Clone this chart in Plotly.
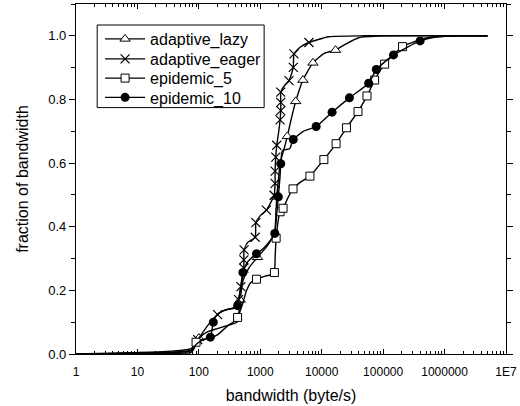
import plotly.graph_objects as go

# ---------------- data ----------------
lazy_x = [1, 30, 75, 85, 100, 140, 200, 300, 420, 470, 522, 650, 900, 1300, 1700, 1854, 2000, 2100, 2400, 2755,
          3200, 3776, 4954, 7194, 11000, 16780, 25000, 40000, 100000, 5000000]
lazy_y = [0, 0.004, 0.012, 0.03, 0.05, 0.07, 0.08, 0.09, 0.10, 0.17, 0.23, 0.27, 0.304, 0.34, 0.38, 0.494, 0.56,
          0.60, 0.64, 0.684, 0.74, 0.794, 0.861, 0.915, 0.945, 0.955, 0.975, 0.994, 1.0, 1.0]
lazy_mx = [100, 470, 900, 1854, 2755, 3776, 4954, 7194, 16780]
lazy_my = [0.05, 0.17, 0.304, 0.494, 0.684, 0.794, 0.861, 0.915, 0.955]

eager_x = [1, 30, 75, 85, 96, 140, 202, 260, 400, 443, 484, 540, 540, 545, 620, 826, 848, 1000, 1259, 1679, 1742,
           1742, 1787, 1854, 2000, 2099, 2155, 2155, 2155, 2400, 2937, 3445, 3540, 4500, 6194, 13000, 50000, 5000000]
eager_y = [0, 0.008, 0.017, 0.03, 0.045, 0.09, 0.124, 0.138, 0.148, 0.171, 0.212, 0.27, 0.296, 0.327, 0.35, 0.367,
           0.413, 0.435, 0.452, 0.499, 0.536, 0.575, 0.619, 0.656, 0.70, 0.736, 0.765, 0.791, 0.823, 0.84, 0.859,
           0.901, 0.943, 0.965, 0.979, 0.997, 1.0, 1.0]
eager_mx = [96, 202, 443, 484, 540, 540, 545, 826, 848, 1259, 1679, 1742, 1742, 1787, 1854, 2099, 2155, 2155, 2155,
            2937, 3445, 3540, 6194]
eager_my = [0.045, 0.124, 0.171, 0.212, 0.27, 0.296, 0.327, 0.367, 0.413, 0.452, 0.499, 0.536, 0.575, 0.619, 0.656,
            0.736, 0.765, 0.791, 0.823, 0.859, 0.901, 0.943, 0.979]

ep5_x = [1, 30, 75, 85, 90, 110, 150, 200, 300, 400, 427, 500, 600, 700, 867, 1200, 1600, 1698, 1750, 1811, 2099,
         2350, 2800, 3411, 4500, 6427, 10840, 17140, 25290, 38990, 54580, 72610, 105700, 206700, 500000, 1500000,
         5000000]
ep5_y = [0, 0.002, 0.005, 0.02, 0.037, 0.045, 0.05, 0.06, 0.09, 0.105, 0.115, 0.15, 0.2, 0.225, 0.235, 0.245, 0.25,
         0.256, 0.31, 0.364, 0.447, 0.458, 0.49, 0.519, 0.54, 0.559, 0.611, 0.661, 0.711, 0.762, 0.811, 0.861, 0.911,
         0.966, 0.993, 1.0, 1.0]
ep5_mx = [90, 427, 867, 1698, 1811, 2099, 2350, 3411, 6427, 10840, 17140, 25290, 38990, 54580, 72610, 105700, 206700]
ep5_my = [0.037, 0.115, 0.235, 0.256, 0.364, 0.447, 0.458, 0.519, 0.559, 0.611, 0.661, 0.711, 0.762, 0.811, 0.861,
          0.911, 0.966]

ep10_x = [1, 20, 75, 90, 120, 154, 165, 172, 200, 300, 400, 427, 470, 522, 600, 700, 867, 1100, 1500, 1722, 1850,
          1968, 2100, 2155, 2300, 3000, 3445, 5000, 8128, 14760, 28250, 58080, 77450, 147600, 400000, 800000,
          1500000, 5000000]
ep10_y = [0, 0.004, 0.01, 0.03, 0.045, 0.053, 0.08, 0.10, 0.125, 0.14, 0.145, 0.152, 0.2, 0.256, 0.285, 0.30, 0.315,
          0.33, 0.36, 0.379, 0.44, 0.494, 0.56, 0.598, 0.64, 0.645, 0.674, 0.70, 0.715, 0.76, 0.805, 0.851, 0.894,
          0.94, 0.984, 0.997, 1.0, 1.0]
ep10_mx = [154, 172, 427, 522, 867, 1722, 1968, 2155, 3445, 8128, 14760, 28250, 58080, 77450, 147600, 400000]
ep10_my = [0.053, 0.10, 0.152, 0.256, 0.315, 0.379, 0.494, 0.598, 0.674, 0.715, 0.76, 0.805, 0.851, 0.894, 0.94, 0.984]

x_tickvals = [1, 10, 100, 1000, 10000, 100000, 1000000, 10000000]
x_ticktext = ["1", "10", "100", "1000", "10000", "100000", "1000000", "1E7"]
y_tickvals = [0.0, 0.2, 0.4, 0.6, 0.8, 1.0]
y_ticktext = ["0.0", "0.2", "0.4", "0.6", "0.8", "1.0"]

series = [
    ("adaptive_lazy", lazy_x, lazy_y, lazy_mx, lazy_my, dict(symbol="triangle-up", size=9, color="white",
                                                             line=dict(color="black", width=1))),
    ("adaptive_eager", eager_x, eager_y, eager_mx, eager_my, dict(symbol="x-thin", size=9, color="black",
                                                                  line=dict(color="black", width=1.2))),
    ("epidemic_5", ep5_x, ep5_y, ep5_mx, ep5_my, dict(symbol="square", size=8, color="white",
                                                      line=dict(color="black", width=1))),
    ("epidemic_10", ep10_x, ep10_y, ep10_mx, ep10_my, dict(symbol="circle", size=9, color="black",
                                                           line=dict(color="black", width=0))),
]
legend_ids = ["legend", "legend2", "legend3", "legend4"]
legend_rows = [0.900, 0.843, 0.788, 0.733]   # paper y of each legend row (layout)

FONT = "Liberation Sans, Arial, sans-serif"
fig = go.Figure()
for name, lx, ly, mx, my, mk in series:
    fig.add_trace(go.Scatter(x=lx, y=ly, mode="lines", line=dict(color="black", width=1.4, shape="spline",
                                                                 smoothing=0.5),
                             showlegend=False, hoverinfo="skip"))
    fig.add_trace(go.Scatter(x=mx, y=my, mode="markers", marker=mk, showlegend=False))
for (name, lx, ly, mx, my, mk), lid in zip(series, legend_ids):
    fig.add_trace(go.Scatter(x=[None], y=[None], mode="lines+markers", name=name, legend=lid,
                             line=dict(color="black", width=1.4), marker=mk))

minor_x = [m * 10 ** k for k in range(7) for m in range(2, 10)]

legend_common = dict(x=0.056, xanchor="left", yanchor="middle", borderwidth=0, bgcolor="rgba(0,0,0,0)",
                     font=dict(size=16, family=FONT), itemwidth=40)

fig.update_layout(
    width=520, height=406,
    margin=dict(l=76, r=12, t=3, b=52),
    paper_bgcolor="white", plot_bgcolor="white",
    font=dict(family=FONT, color="black", size=12),
    showlegend=True,
    xaxis=dict(type="log", range=[0, 7], tickmode="array", tickvals=x_tickvals, ticktext=x_ticktext,
               ticks="inside", ticklen=5, tickwidth=1, tickcolor="black", showline=True, linecolor="black",
               linewidth=1.3, mirror="ticks", showgrid=False, zeroline=False,
               tickfont=dict(size=12), ticklabelstandoff=6,
               minor=dict(tickmode="array", tickvals=minor_x, ticks="inside", ticklen=3, tickcolor="black",
                          showgrid=False),
               title=dict(text="bandwidth (byte/s)", font=dict(size=16), standoff=12)),
    yaxis=dict(range=[0, 1.1], tickmode="array", tickvals=y_tickvals, ticktext=y_ticktext,
               ticks="outside", ticklen=6, tickwidth=1, tickcolor="black", showline=True, linecolor="black",
               linewidth=1.3, mirror="ticks", showgrid=False, zeroline=False, tickfont=dict(size=13),
               minor=dict(dtick=0.1, ticks="outside", ticklen=4, tickcolor="black", showgrid=False),
               title=dict(text="fraction of bandwidth", font=dict(size=16), standoff=15)),
    shapes=[dict(type="rect", xref="paper", yref="paper", x0=0.0493, x1=0.4375, y0=0.704, y1=0.940,
                 line=dict(color="black", width=1), fillcolor="white", layer="below")],
)
for lid, ly in zip(legend_ids, legend_rows):
    fig.update_layout({lid: dict(legend_common, y=ly)})

fig.write_html("out.html", config={"displayModeBar": False},
               post_script="document.body.style.margin='0px';document.body.style.overflow='hidden';")
